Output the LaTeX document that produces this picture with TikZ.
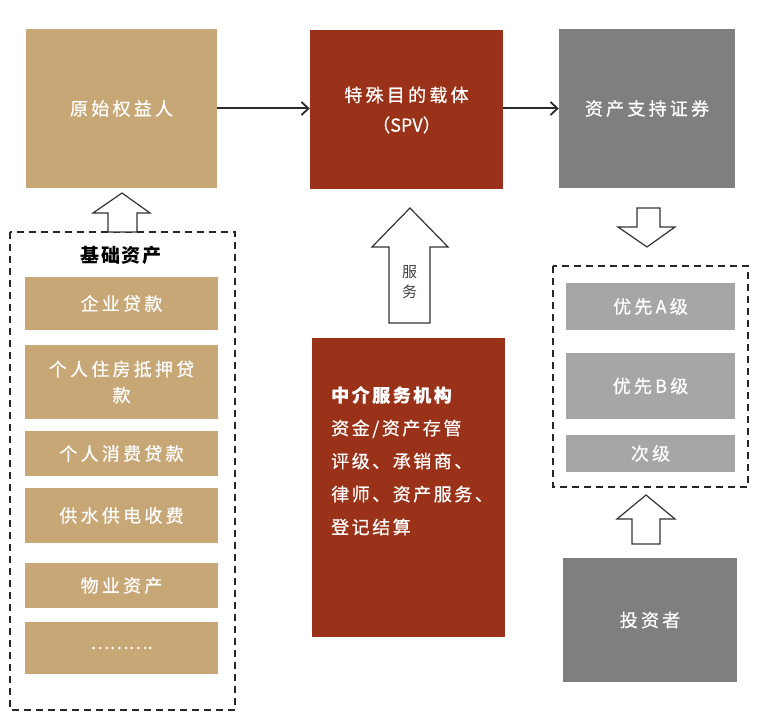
\documentclass[tikz,border=0pt]{standalone}
\usepackage{fontspec}
\setmainfont{Noto Sans CJK SC}
\usetikzlibrary{arrows.meta}
\definecolor{tan}{HTML}{C8A777}
\definecolor{rust}{HTML}{9A3219}
\definecolor{dgray}{HTML}{7F7F7F}
\definecolor{lgray}{HTML}{A6A6A6}
\definecolor{lineg}{HTML}{2A2A2A}
\begin{document}
\begin{tikzpicture}[x=1pt,y=-1pt,
  box/.style={draw=none,inner sep=0pt,text=white,align=center,
    font=\fontsize{18}{26}\selectfont\addfontfeature{LetterSpace=18,FakeBold=0.6}},
  tanbox/.style={box,fill=tan},
  rustbox/.style={box,fill=rust},
  graybox/.style={box,fill=dgray},
  litebox/.style={box,fill=lgray},
  dashbox/.style={draw=black!85,line width=1.6pt,dash pattern=on 7pt off 5pt},
  blockarrow/.style={draw=black!80,fill=white,line width=1.2pt,line join=miter},
  flow/.style={draw=lineg,line width=2pt,-{Straight Barb[length=7pt,width=13pt,line width=1.8pt]}}
]
\useasboundingbox (0,0) rectangle (761,722);
% top row
\node[tanbox,minimum width=191pt,minimum height=159pt] (ys) at (121.5,108.5) {原始权益人};
\node[rustbox,minimum width=193pt,minimum height=159pt,font=\fontsize{18}{30}\selectfont\addfontfeature{LetterSpace=18,FakeBold=0.6}] (spv) at (406.5,110) {特殊目的载体\\{\addfontfeature{LetterSpace=0}（SPV）}};
\node[graybox,minimum width=176pt,minimum height=159pt] (abs) at (647,108.5) {资产支持证券};
\draw[flow] (ys) -- (spv.west |- ys.east);
\draw[flow] (spv.east |- abs.west) -- (abs);

% left group
\draw[dashbox] (10,232) rectangle (235,710);
\node[font=\fontsize{19}{22}\selectfont\bfseries\addfontfeature{LetterSpace=8},text=black] (jc) at (121,255) {基础资产};
\node[tanbox,minimum width=193pt,minimum height=53pt] (a1) at (121.5,303.5) {企业贷款};
\node[tanbox,minimum width=193pt,minimum height=74pt] (a2) at (121.5,382) {个人住房抵押贷\\款};
\node[tanbox,minimum width=193pt,minimum height=45pt] (a3) at (121.5,453.5) {个人消费贷款};
\node[tanbox,minimum width=193pt,minimum height=55pt] (a4) at (121.5,515.5) {供水供电收费};
\node[tanbox,minimum width=193pt,minimum height=45pt] (a5) at (121.5,585.5) {物业资产};
\node[tanbox,minimum width=193pt,minimum height=52pt] (a6) at (121.5,648) {\addfontfeature{LetterSpace=0}……….};
\draw[blockarrow] (122,193) -- (150,213) -- (137,213) -- (137,232) -- (108,232) -- (108,213) -- (93,213) -- cycle;

% middle
\draw[blockarrow] (410,208) -- (448,247) -- (430,247) -- (430,323) -- (389,323) -- (389,247) -- (372,247) -- cycle;
\node[text=black!75,font=\fontsize{15}{20}\selectfont,align=center] (fw) at (409.5,282) {服\\务};
\node[rustbox,minimum width=193pt,minimum height=299pt] (zj) at (408.5,487.5) {};
\node[anchor=north west,text=white,align=left,inner sep=0pt,
  font=\fontsize{18}{33}\selectfont\addfontfeature{LetterSpace=14,FakeBold=0.6}] (zjt) at (331,386)
  {\textbf{中介服务机构}\\资金/资产存管\\评级、承销商、\\律师、资产服务、\\登记结算};

% right group
\draw[blockarrow] (637,208) -- (660,208) -- (660,227) -- (675,227) -- (647,247) -- (618,227) -- (637,227) -- cycle;
\draw[dashbox] (553,266) rectangle (748,487);
\node[litebox,minimum width=169pt,minimum height=47pt] (r1) at (650.5,306.5) {优先A级};
\node[litebox,minimum width=169pt,minimum height=66pt] (r2) at (650.5,386) {优先B级};
\node[litebox,minimum width=169pt,minimum height=37pt] (r3) at (650.5,453.5) {次级};
\draw[blockarrow] (646,495) -- (675,519) -- (660,519) -- (660,544) -- (632,544) -- (632,519) -- (617,519) -- cycle;
\node[graybox,minimum width=174pt,minimum height=124pt] (inv) at (650,620) {投资者};
\end{tikzpicture}
\end{document}
